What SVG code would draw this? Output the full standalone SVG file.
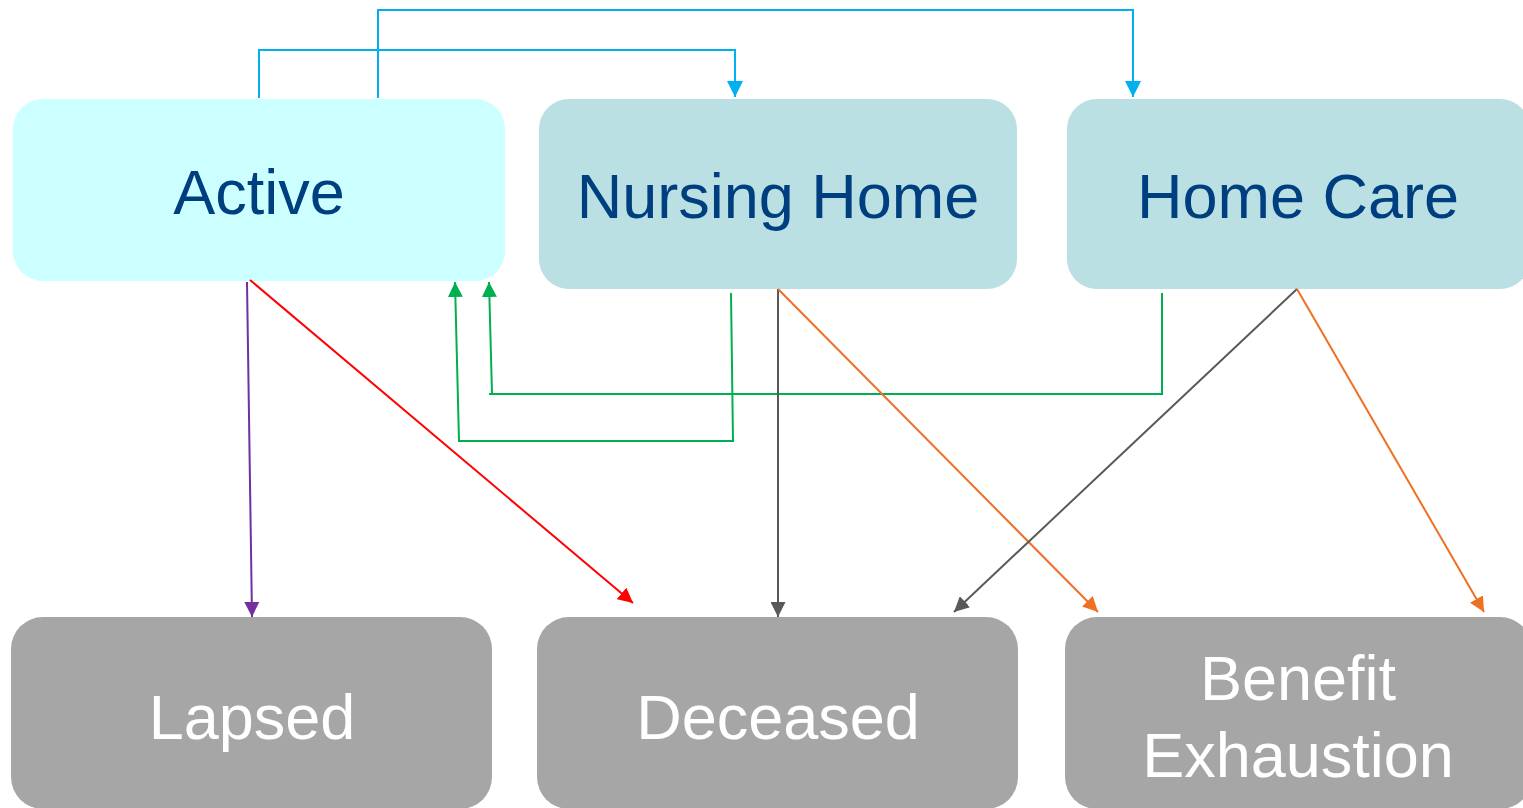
<svg xmlns="http://www.w3.org/2000/svg" width="1523" height="808" viewBox="0 0 1523 808">
<style>
.top text{font-family:"Liberation Sans",Arial,sans-serif;font-size:63px;fill:#003F7F;text-anchor:middle}
.bot text{font-family:"Liberation Sans",Arial,sans-serif;font-size:63px;fill:#FFFFFF;text-anchor:middle}
.bot rect{fill:#A6A6A6}
.c{fill:none;stroke-width:2}
</style>
<defs>
<marker id="mb" viewBox="0 0 10 10" refX="10" refY="5" markerWidth="16" markerHeight="16" markerUnits="userSpaceOnUse" orient="auto"><path d="M0,0 L10,5 L0,10 z" fill="#00B0F0"/></marker>
<marker id="mp" viewBox="0 0 10 10" refX="10" refY="5" markerWidth="15" markerHeight="15" markerUnits="userSpaceOnUse" orient="auto"><path d="M0,0 L10,5 L0,10 z" fill="#7030A0"/></marker>
<marker id="mr" viewBox="0 0 10 10" refX="10" refY="5" markerWidth="15" markerHeight="15" markerUnits="userSpaceOnUse" orient="auto"><path d="M0,0 L10,5 L0,10 z" fill="#FF0000"/></marker>
<marker id="mg" viewBox="0 0 10 10" refX="10" refY="5" markerWidth="15" markerHeight="15" markerUnits="userSpaceOnUse" orient="auto"><path d="M0,0 L10,5 L0,10 z" fill="#00B050"/></marker>
<marker id="md" viewBox="0 0 10 10" refX="10" refY="5" markerWidth="15" markerHeight="15" markerUnits="userSpaceOnUse" orient="auto"><path d="M0,0 L10,5 L0,10 z" fill="#595959"/></marker>
<marker id="mo" viewBox="0 0 10 10" refX="10" refY="5" markerWidth="15" markerHeight="15" markerUnits="userSpaceOnUse" orient="auto"><path d="M0,0 L10,5 L0,10 z" fill="#EE7023"/></marker>
</defs>
<g id="active" class="top"><rect x="13" y="99" width="492" height="182" rx="30" fill="#CCFFFF"/><text x="259" y="214">Active</text></g>
<g id="nursing-home" class="top"><rect x="539" y="99" width="478" height="190" rx="30" fill="#BAE0E3"/><text x="778" y="218">Nursing Home</text></g>
<g id="home-care" class="top"><rect x="1067" y="99" width="463" height="190" rx="30" fill="#BAE0E3"/><text x="1298" y="218">Home Care</text></g>
<g id="lapsed" class="bot"><rect x="11" y="617" width="481" height="192" rx="32"/><text x="252" y="739">Lapsed</text></g>
<g id="deceased" class="bot"><rect x="537" y="617" width="481" height="192" rx="32"/><text x="778" y="739">Deceased</text></g>
<g id="benefit-exhaustion" class="bot"><rect x="1065" y="617" width="467" height="192" rx="32"/><text x="1298" y="700">Benefit</text><text x="1298" y="777">Exhaustion</text></g>
<g id="connectors">
<path class="c" stroke="#00B0F0" d="M259,98 V50 H735 V97" marker-end="url(#mb)"/>
<path class="c" stroke="#00B0F0" d="M378,98 V10 H1133 V97" marker-end="url(#mb)"/>
<path class="c" stroke="#7030A0" d="M247,282 L252,617" marker-end="url(#mp)"/>
<path class="c" stroke="#FF0000" d="M250,280 L633,603" marker-end="url(#mr)"/>
<path class="c" stroke="#00B050" d="M731,293 L733,441 H459 L455,282" marker-end="url(#mg)"/>
<path class="c" stroke="#00B050" d="M1162,293 V394 H489 M492,394 L489,282" marker-end="url(#mg)"/>
<path class="c" stroke="#595959" d="M778,289 V617" marker-end="url(#md)"/>
<path class="c" stroke="#EE7023" d="M778,289 L1098,612" marker-end="url(#mo)"/>
<path class="c" stroke="#595959" d="M1297,289 L954,612" marker-end="url(#md)"/>
<path class="c" stroke="#EE7023" d="M1297,289 L1484,612" marker-end="url(#mo)"/>
</g>
</svg>
